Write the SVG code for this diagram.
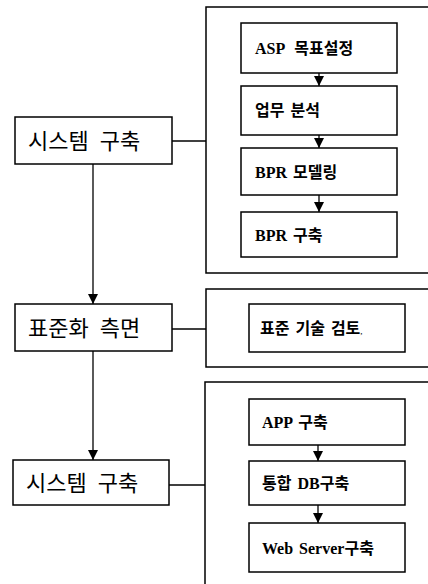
<svg xmlns="http://www.w3.org/2000/svg" width="428" height="584" viewBox="0 0 428 584">
<defs>
<marker id="ah" markerWidth="10" markerHeight="10" refX="10" refY="5" orient="auto" markerUnits="userSpaceOnUse" viewBox="0 0 10 10">
<path d="M0,0 L10,5 L0,10 Z" fill="#000"/>
</marker>
<style>
.box{fill:#fff;stroke:#000;stroke-width:1.5}
.cont{fill:none;stroke:#000;stroke-width:1.5}
.ln{fill:none;stroke:#000;stroke-width:1.3}
.big{font-family:"Noto Sans CJK KR","Liberation Sans",sans-serif;font-size:22px;word-spacing:6px;fill:#000}
.sm{font-family:"Liberation Serif","Noto Sans CJK KR",serif;font-size:16px;font-weight:bold;word-spacing:2px;fill:#000}
.wide{word-spacing:6px}
</style>
</defs>
<rect width="428" height="584" fill="#fff"/>
<g id="connectors">
<line class="ln" x1="93" y1="164" x2="93" y2="304" marker-end="url(#ah)"/>
<line class="ln" x1="93" y1="351" x2="93" y2="460" marker-end="url(#ah)"/>
<line class="ln" x1="172" y1="141" x2="206" y2="141"/>
<line class="ln" x1="172" y1="329" x2="206" y2="329"/>
<line class="ln" x1="169" y1="485" x2="205" y2="485"/>
<line class="ln" x1="319" y1="73" x2="319" y2="86" marker-end="url(#ah)"/>
<line class="ln" x1="319" y1="135" x2="319" y2="148" marker-end="url(#ah)"/>
<line class="ln" x1="319" y1="195" x2="319" y2="212" marker-end="url(#ah)"/>
<line class="ln" x1="318" y1="445" x2="318" y2="461" marker-end="url(#ah)"/>
<line class="ln" x1="318" y1="505" x2="318" y2="523" marker-end="url(#ah)"/>
</g>
<g id="group1">
<path class="cont" d="M430,7 H206 V273 H430"/>
</g>
<g id="group2">
<path class="cont" d="M430,289 H206 V367 H430"/>
</g>
<g id="group3">
<path class="cont" d="M430,382 H205 V590"/>
</g>
<g id="n1"><rect class="box" x="15" y="117" width="157" height="47"/><text class="big" x="28" y="149">시스템 구축</text></g>
<g id="n2"><rect class="box" x="15" y="304" width="157" height="47"/><text class="big" x="28" y="336">표준화 측면</text></g>
<g id="n3"><rect class="box" x="13" y="460" width="156" height="45"/><text class="big" x="26" y="491">시스템 구축</text></g>
<g id="a1"><rect class="box" x="241" y="23" width="156" height="50"/><text class="sm wide" x="255" y="54">ASP 목표설정</text></g>
<g id="a2"><rect class="box" x="241" y="86" width="156" height="49"/><text class="sm" x="255" y="116">업무 분석</text></g>
<g id="a3"><rect class="box" x="241" y="148" width="156" height="47"/><text class="sm" x="255" y="178">BPR 모델링</text></g>
<g id="a4"><rect class="box" x="241" y="212" width="156" height="45"/><text class="sm" x="255" y="241">BPR 구축</text></g>
<g id="b1"><rect class="box" x="249" y="304" width="156" height="48"/><text class="sm" x="260" y="334">표준 기술 검토<tspan font-size="9" font-weight="normal">,</tspan></text></g>
<g id="c1"><rect class="box" x="249" y="399" width="156" height="46"/><text class="sm" x="262" y="428">APP 구축</text></g>
<g id="c2"><rect class="box" x="249" y="461" width="156" height="44"/><text class="sm" x="262" y="489">통합 DB구축</text></g>
<g id="c3"><rect class="box" x="249" y="523" width="156" height="49"/><text class="sm" x="262" y="554">Web Server구축</text></g>
</svg>
